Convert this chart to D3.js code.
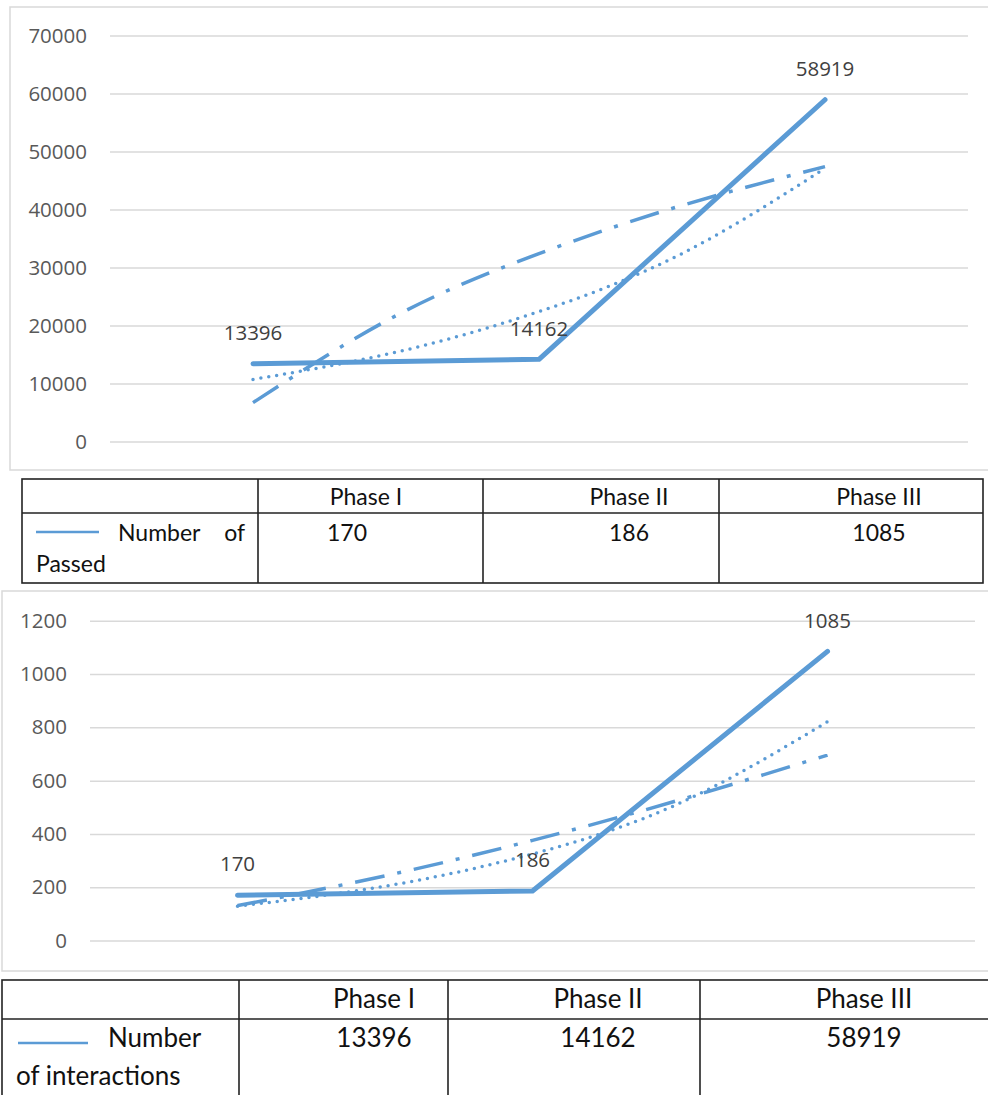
<!DOCTYPE html>
<html>
<head>
<meta charset="utf-8">
<script src="https://cdn.jsdelivr.net/npm/d3@7"></script>
<style>
  html, body { margin: 0; padding: 0; background: #ffffff; }
  svg { display: block; }
</style>
</head>
<body>
<svg id="chart" width="988" height="1095"></svg>
<script>
// ---------------- data ----------------
const phases = ["Phase I", "Phase II", "Phase III"];
const interactions = [13396, 14162, 58919];
const passed = [170, 186, 1085];

// trendline samples, at phase positions 1..3
const trendPhase = [1, 1.5, 2, 2.5, 3];
const interactionsLogTrend = [6700, 21700, 32400, 40700, 47400];
const interactionsExpTrend = [10700, 15400, 22400, 32400, 47100];
const passedPowerTrend = [131, 243, 376, 528, 696];
const passedExpTrend = [129, 204, 325, 516, 821];

const ticksTop = [0, 10000, 20000, 30000, 40000, 50000, 60000, 70000];
const ticksBottom = [0, 200, 400, 600, 800, 1000, 1200];

const topTableSeries = ["Number", "of", "Passed"];
const topTableValues = [170, 186, 1085];
const bottomTableSeries = ["Number", "of interactions"];
const bottomTableValues = [13396, 14162, 58919];

// ---------------- styles ----------------
const BLUE = "#5B9BD5";
const GRID = "#d9d9d9";
const svg = d3.select("#chart");
svg.append("rect").attr("width", 988).attr("height", 1095).attr("fill", "#fff");

function drawChart(cfg) {
  const g = svg.append("g");
  // frame
  g.append("rect")
    .attr("x", cfg.frame[0]).attr("y", cfg.frame[1])
    .attr("width", cfg.frame[2]).attr("height", cfg.frame[3])
    .attr("fill", "none").attr("stroke", GRID).attr("stroke-width", 1.5);

  const x = d3.scaleBand().domain(phases).range([cfg.x0, cfg.x1]).padding(0);
  const xc = d => x(d) + x.bandwidth() / 2;
  const xp = d3.scaleLinear().domain([1, 3]).range([xc(phases[0]), xc(phases[2])]);
  const y = d3.scaleLinear().domain([0, cfg.max]).range([cfg.yBottom, cfg.yTop]);

  const axis = d3.axisLeft(y).tickValues(cfg.ticks)
    .tickSize(-(cfg.x1 - cfg.x0)).tickPadding(23).tickFormat(d3.format("d"));
  const ag = g.append("g").attr("transform", `translate(${cfg.x0},0)`).call(axis);
  ag.select(".domain").remove();
  ag.selectAll(".tick line").attr("stroke", GRID).attr("stroke-width", 1.5);
  ag.selectAll(".tick text")
    .attr("fill", "#595959")
    .style("font-family", "'Open Sans', 'Noto Sans', sans-serif")
    .style("font-size", "20.5px");

  const trendLine = d3.line()
    .x((d, i) => xp(trendPhase[i])).y(d => y(d))
    .curve(d3.curveNatural);

  // dash-dot trend
  g.append("path").datum(cfg.trendA)
    .attr("d", trendLine).attr("fill", "none")
    .attr("stroke", BLUE).attr("stroke-width", 3.5)
    .attr("stroke-dasharray", "30,13,4,13");
  // dotted trend
  g.append("path").datum(cfg.trendB)
    .attr("d", trendLine).attr("fill", "none")
    .attr("stroke", BLUE).attr("stroke-width", 3.5)
    .attr("stroke-linecap", "round")
    .attr("stroke-dasharray", "0,8");

  // main line
  const line = d3.line().x((d, i) => xc(phases[i])).y(d => y(d));
  g.append("path").datum(cfg.values)
    .attr("d", line).attr("fill", "none")
    .attr("stroke", BLUE).attr("stroke-width", 5)
    .attr("stroke-linecap", "round").attr("stroke-linejoin", "round");

  // data labels
  g.selectAll(".lbl").data(cfg.values).enter().append("text")
    .attr("x", (d, i) => xc(phases[i]))
    .attr("y", d => y(d) - 31)
    .attr("dy", "0.35em")
    .attr("text-anchor", "middle")
    .attr("fill", "#404040")
    .style("font-family", "'Open Sans', 'Noto Sans', sans-serif")
    .style("font-size", "20.5px")
    .text(d => d);
}

drawChart({
  frame: [10, 7, 990, 463],
  x0: 110, x1: 968, yTop: 35.5, yBottom: 441.5, max: 70000,
  ticks: ticksTop, values: interactions,
  trendA: interactionsLogTrend, trendB: interactionsExpTrend
});

drawChart({
  frame: [2, 591, 996, 380],
  x0: 90, x1: 975, yTop: 620.7, yBottom: 940.6, max: 1200,
  ticks: ticksBottom, values: passed,
  trendA: passedPowerTrend, trendB: passedExpTrend
});

// ---------------- tables ----------------
function drawTable(cfg) {
  const g = svg.append("g");
  const stroke = "#222";
  const [L, T, R, B] = cfg.box;
  g.append("rect").attr("x", L).attr("y", T).attr("width", R - L).attr("height", B - T)
    .attr("fill", "none").attr("stroke", stroke).attr("stroke-width", 1.6);
  g.append("line").attr("x1", L).attr("x2", R).attr("y1", cfg.rowY).attr("y2", cfg.rowY)
    .attr("stroke", stroke).attr("stroke-width", 1.6);
  cfg.cols.forEach(cx => {
    g.append("line").attr("x1", cx).attr("x2", cx).attr("y1", T).attr("y2", B)
      .attr("stroke", stroke).attr("stroke-width", 1.6);
  });
  const font = t => t.style("font-family", "Lato, 'Open Sans', sans-serif")
    .style("font-size", cfg.fontSize + "px").attr("fill", "#111");

  phases.forEach((p, i) => {
    g.append("text").attr("x", cfg.headX[i]).attr("y", cfg.headBase)
      .attr("text-anchor", cfg.headAnchor[i]).call(font).text(p);
    g.append("text").attr("x", cfg.valX[i]).attr("y", cfg.valBase)
      .attr("text-anchor", cfg.valAnchor[i]).call(font).text(cfg.values[i]);
  });
  // legend swatch
  g.append("line").attr("x1", cfg.swatch[0]).attr("x2", cfg.swatch[1])
    .attr("y1", cfg.swatch[2]).attr("y2", cfg.swatch[2])
    .attr("stroke", BLUE).attr("stroke-width", 2.5);
  cfg.labels.forEach(l => {
    g.append("text").attr("x", l.x).attr("y", l.y).attr("text-anchor", l.a)
      .call(font).text(l.t);
  });
}

drawTable({
  box: [22, 479, 983, 583], rowY: 513, cols: [258, 483, 719],
  fontSize: 23,
  headBase: 505, valBase: 541,
  headX: [366, 629, 879], headAnchor: ["middle", "middle", "middle"],
  valX: [327, 629, 879], valAnchor: ["start", "middle", "middle"],
  values: topTableValues,
  swatch: [36, 99, 532],
  labels: [
    { t: topTableSeries[0], x: 118, y: 541, a: "start" },
    { t: topTableSeries[1], x: 245, y: 541, a: "end" },
    { t: topTableSeries[2], x: 36, y: 572, a: "start" }
  ]
});

drawTable({
  box: [2, 980, 1000, 1110], rowY: 1019, cols: [239, 448, 700],
  fontSize: 26,
  headBase: 1008, valBase: 1047,
  headX: [374, 598, 864], headAnchor: ["middle", "middle", "middle"],
  valX: [374, 598, 864], valAnchor: ["middle", "middle", "middle"],
  values: bottomTableValues,
  swatch: [18, 88, 1043],
  labels: [
    { t: bottomTableSeries[0], x: 108, y: 1047, a: "start" },
    { t: bottomTableSeries[1], x: 16, y: 1085, a: "start" }
  ]
});
</script>
</body>
</html>
